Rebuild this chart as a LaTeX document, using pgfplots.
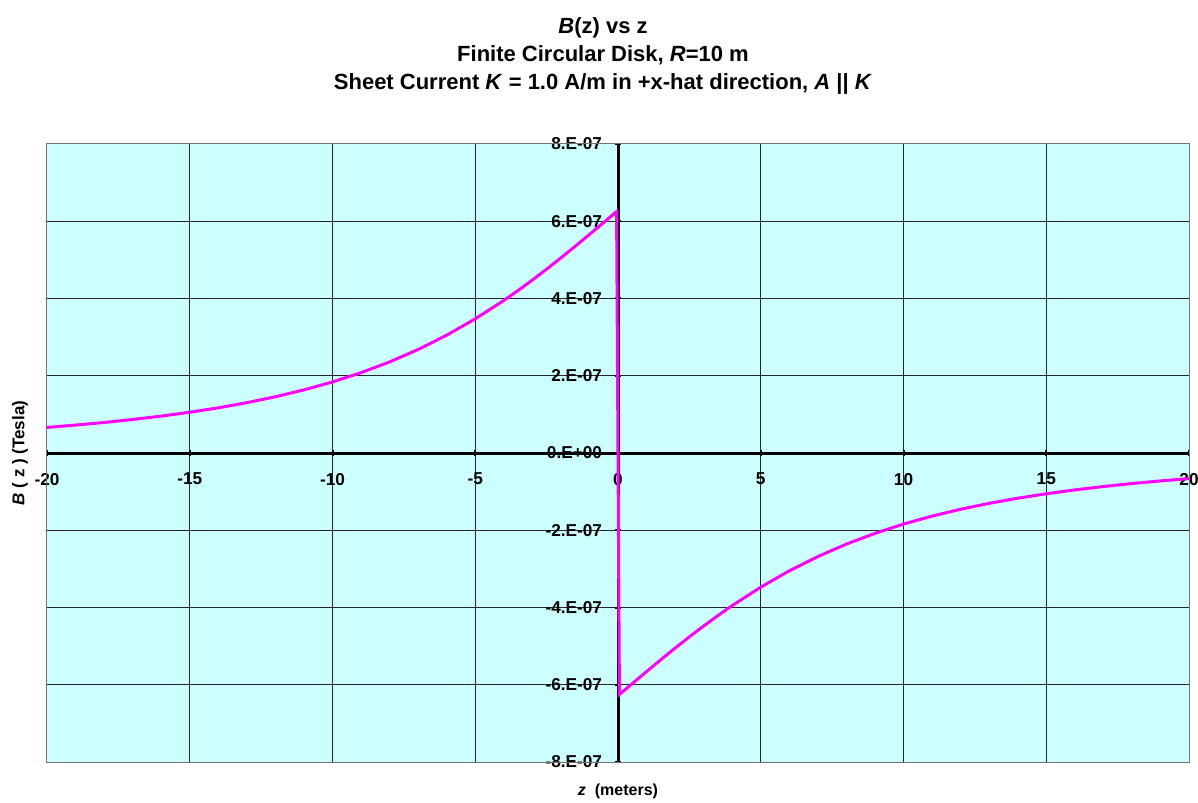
\documentclass[border=0pt]{standalone}
\usepackage{fontspec}
\setmainfont{Liberation Sans}
\usepackage{pgfplots}
\pgfplotsset{compat=1.18}
\usetikzlibrary{calc}
\definecolor{bgcyan}{HTML}{CCFFFF}
\definecolor{mag}{HTML}{FF00FF}
\begin{document}
\begin{tikzpicture}
\begin{axis}[
  scale only axis, width=571pt, height=309pt,
  xmin=-20, xmax=20, ymin=-8e-7, ymax=8e-7,
  axis lines=middle,
  axis line style={-, line width=1.5pt, black},
  axis background/.style={fill=bgcyan},
  xtick={-20,-15,-10,-5,0,5,10,15,20},
  xticklabels={-20,-15,-10,-5,0,5,10,15,20},
  ytick={-8e-7,-6e-7,-4e-7,-2e-7,0,2e-7,4e-7,6e-7,8e-7},
  yticklabels={-8.E-07,-6.E-07,-4.E-07,-2.E-07,0.E+00,2.E-07,4.E-07,6.E-07,8.E-07},
  scaled y ticks=false,
  grid=major, major grid style={black!85, line width=0.5pt},
  tick style={black, line width=1pt}, major tick length=3pt, tick align=center,
  hide obscured x ticks=false, hide obscured y ticks=false,
  ticklabel style={font=\fontsize{8.6}{10}\selectfont\bfseries},
  xticklabel style={anchor=north, yshift=-5pt},
  yticklabel style={anchor=east, xshift=-3pt},
  clip=false,
]
\addplot[mag, line width=1.5pt] coordinates {
(-20,0.663e-7) (-19,0.723e-7) (-18,0.790e-7) (-17,0.868e-7) (-16,0.955e-7)
(-15,1.055e-7) (-14,1.170e-7) (-13,1.303e-7) (-12,1.456e-7) (-11,1.634e-7)
(-10,1.840e-7) (-9,2.080e-7) (-8,2.358e-7) (-7,2.680e-7) (-6,3.050e-7)
(-5,3.473e-7) (-4,3.949e-7) (-3.5,4.208e-7) (-3,4.478e-7) (-2.5,4.759e-7)
(-2,5.051e-7) (-1.5,5.351e-7) (-1,5.658e-7) (-0.5,5.969e-7) (-0.1,6.22e-7)
(-0.05,6.25e-7)
(0.05,-6.25e-7) (0.1,-6.22e-7)
(0.5,-5.969e-7) (1,-5.658e-7) (1.5,-5.351e-7) (2,-5.051e-7) (2.5,-4.759e-7)
(3,-4.478e-7) (3.5,-4.208e-7) (4,-3.949e-7) (5,-3.473e-7) (6,-3.050e-7)
(7,-2.680e-7) (8,-2.358e-7) (9,-2.080e-7) (10,-1.840e-7) (11,-1.634e-7)
(12,-1.456e-7) (13,-1.303e-7) (14,-1.170e-7) (15,-1.055e-7) (16,-0.955e-7)
(17,-0.868e-7) (18,-0.790e-7) (19,-0.723e-7) (20,-0.663e-7)
};
\draw[black!55, line width=0.5pt] (rel axis cs:0,0) rectangle (rel axis cs:1,1);
\coordinate (ll) at (rel axis cs:0,0);
\coordinate (ur) at (rel axis cs:1,1);
\coordinate (mid) at (rel axis cs:0.5,0.5);
\end{axis}
\pgfresetboundingbox
\path[use as bounding box] ($(ll)+(-23.5pt,-20pt)$) rectangle ($(ur)+(4.5pt,72pt)$);
\coordinate (tc) at ($(ll)+(278pt,0)$);
\begin{scope}[every node/.style={font=\fontsize{11}{13}\selectfont\bfseries, inner sep=0pt, anchor=base}]
\node at (tc |- {$(ur)+(0,55pt)$}) {\textit{B}(z) vs z};
\node at (tc |- {$(ur)+(0,41pt)$}) {Finite Circular Disk, \textit{R}=10 m};
\node at (tc |- {$(ur)+(0,27pt)$}) {Sheet Current \textit{K} = 1.0 A/m in +x-hat direction, \textit{A} || \textit{K}};
\end{scope}
\node[font=\fontsize{8}{10}\selectfont\bfseries, inner sep=0pt] at (mid |- {$(ll)+(0,-14.5pt)$}) {\textit{z}\ \ (meters)};
\node[rotate=90, font=\fontsize{8.5}{10}\selectfont\bfseries, inner sep=0pt] at ($(ll |- mid)+(-13.5pt,0)$) {\textit{B} ( z ) (Tesla)};
\end{tikzpicture}
\end{document}
